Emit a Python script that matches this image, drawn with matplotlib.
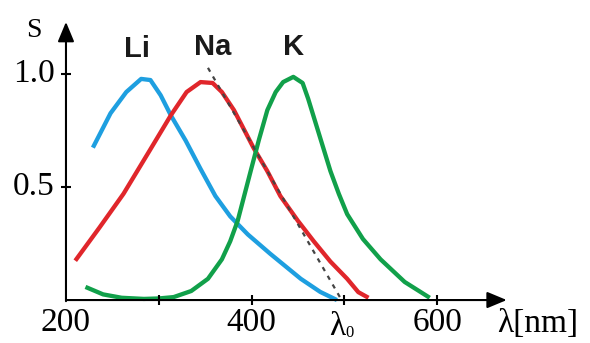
import matplotlib.pyplot as plt

plt.rcParams['font.family'] = ['Liberation Serif', 'DejaVu Serif']

# spectral sensitivity curves (wavelength in nm, relative sensitivity)
li_wl = [229, 248, 265, 281, 291, 302, 313, 329, 345, 361, 377, 396, 420, 453, 474, 492]
li_s = [0.674, 0.826, 0.92, 0.978, 0.973, 0.906, 0.817, 0.705, 0.58, 0.46,
        0.37, 0.29, 0.205, 0.094, 0.036, 0.0]

na_wl = [210, 236, 262, 290, 313, 330, 345, 358, 368, 381, 402, 417, 431,
         450, 467, 485, 503, 515, 526]
na_s = [0.174, 0.32, 0.47, 0.66, 0.817, 0.92, 0.964, 0.96, 0.92, 0.84, 0.674,
        0.57, 0.46, 0.35, 0.26, 0.17, 0.094, 0.035, 0.01]

k_wl = [221, 240, 260, 284, 300, 316, 335, 353, 368, 377, 385, 392, 399, 408,
        417, 426, 434, 445, 455, 461, 467, 476, 485, 494, 503, 520, 539, 565, 592]
k_s = [0.058, 0.025, 0.01, 0.005, 0.007, 0.013, 0.04, 0.094, 0.18, 0.26, 0.35,
       0.46, 0.57, 0.71, 0.84, 0.92, 0.964, 0.987, 0.96, 0.89, 0.81, 0.69, 0.57,
       0.47, 0.38, 0.27, 0.18, 0.08, 0.01]

# tangent to Na curve ending at the red limit lambda0
tan_wl = [353, 497]
tan_s = [1.027, 0.0]
lambda0 = 497

x_ticks = [300, 400, 500, 600]
x_labels = {200: '200', 400: '400', 600: '600'}
y_ticks = [0.5, 1.0]
y_labels = ['0.5', '1.0']

names = ['Li', 'Na', 'K']
name_pos = [(277, 1.11), (358, 1.12), (445, 1.12)]

fig = plt.figure(figsize=(5.9, 3.43), dpi=100)
ax = fig.add_axes([0, 0, 1, 1])
ax.set_xlim(128.9, 764.7)
ax.set_ylim(-0.190, 1.327)
ax.axis('off')

line_kw = dict(lw=3.1, solid_capstyle='butt', solid_joinstyle='round', zorder=3)
ax.plot(li_wl, li_s, color='#1e9fe0', **line_kw)
ax.plot(na_wl, na_s, color='#e0262b', **line_kw)
ax.plot(k_wl, k_s, color='#11a04a', **line_kw)
ax.plot(tan_wl, tan_s, color='#444444', lw=1.6, ls=(0, (2, 2.5)), zorder=4)

# axes with arrows
arr = dict(arrowstyle='-|>,head_length=0.6,head_width=0.25', mutation_scale=20,
           color='black', lw=1.5, shrinkA=0, shrinkB=0)
ax.annotate('', xy=(675, 0), xytext=(200, 0), arrowprops=arr, zorder=5)
ax.annotate('', xy=(200, 1.23), xytext=(200, -0.005), arrowprops=arr, zorder=5)

ax.plot(x_ticks, [0] * len(x_ticks), ls='none', marker='|', ms=7, mew=1.5,
        color='black', zorder=5)
ax.plot([200] * len(y_ticks), y_ticks, ls='none', marker='_', ms=7, mew=1.5,
        color='black', zorder=5)

for val, lab in x_labels.items():
    ax.annotate(lab, xy=(val, 0), xytext=(0, -16.5), textcoords='offset points',
                ha='center', va='center', fontsize=24)
for val, lab in zip(y_ticks, y_labels):
    ax.annotate(lab, xy=(200, val), xytext=(-8, 0), textcoords='offset points',
                ha='right', va='center', fontsize=24)

ax.annotate('λ', xy=(lambda0, 0), xytext=(-3, -19), textcoords='offset points',
            ha='center', va='center', fontsize=24)
ax.annotate('0', xy=(lambda0, 0), xytext=(6, -23.5), textcoords='offset points',
            ha='center', va='center', fontsize=12)
ax.annotate('λ[nm]', xy=(675, 0), xytext=(22, -17), textcoords='offset points',
            ha='center', va='center', fontsize=24)
ax.annotate('S', xy=(200, 1.23), xytext=(-23, -6), textcoords='offset points',
            ha='center', va='center', fontsize=20)

for name, (x, y) in zip(names, name_pos):
    ax.text(x, y, name, ha='center', va='center', fontsize=21,
            fontweight='bold', family='Liberation Sans', color='#1a1a1a')

fig.savefig('out.png', dpi=100)
